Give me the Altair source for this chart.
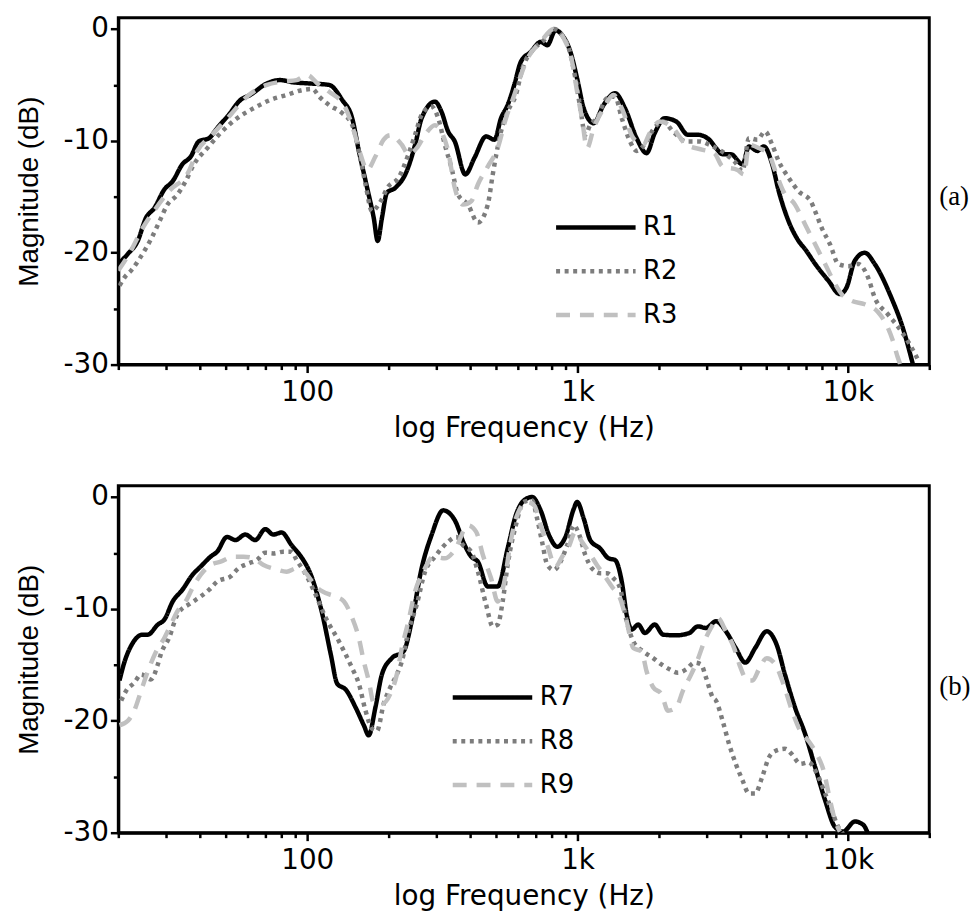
import altair as alt
import pandas as pd

# ---------------- panel (a): (frequency Hz, magnitude dB) ----------------
R1 = [(20, -21.0), (21.7, -20.1), (23.6, -18.95), (25.3, -16.9), (27.2, -16.0), (29.6, -14.35),
      (31.8, -13.6), (34.5, -12.1), (37.1, -11.4), (39.7, -10.05), (43.3, -9.76), (46.4, -8.87),
      (51.2, -7.68), (56.6, -6.35), (61.5, -5.9), (70.9, -4.87), (79.3, -4.57), (88.7, -4.77),
      (101.7, -4.87), (120.4, -5.0), (134.7, -6.35), (146.6, -7.98), (155.2, -10.9), (166.5, -14.2),
      (176.2, -16.9), (182.2, -18.95), (188.9, -16.9), (197.1, -14.65), (211.6, -14.2), (233.4, -12.7),
      (250.6, -10.35), (264.9, -7.98), (296.7, -6.5), (313.7, -7.4), (331.9, -9.16), (351.3, -10.05),
      (384.3, -13.0), (415.9, -11.5), (458.9, -9.6), (492.6, -9.9), (520.9, -7.98), (551.2, -6.8),
      (583.3, -5.0), (616.7, -2.94), (671.2, -2.05), (730.3, -1.16), (772.9, -1.45), (828.7, -0.12),
      (877.1, -0.56), (941, -2.05), (996, -4.42), (1054, -7.09), (1147, -8.42), (1248, -6.79),
      (1376, -5.75), (1498, -7.09), (1653, -9.76), (1799, -11.1), (1930, -9.3), (2100, -7.98),
      (2318, -8.27), (2559, -9.46), (2785, -9.46), (3071, -9.9), (3251, -10.65), (3440, -11.2),
      (3690, -11.2), (4073, -12.1), (4306, -10.5), (4623, -10.9), (4888, -10.5), (5248, -12.1),
      (5549, -14.5), (6038, -17.2), (6571, -18.95), (6953, -19.7), (7567, -21.0), (8467, -22.5),
      (9346, -23.7), (9890, -23.1), (10610, -20.7), (11545, -20.0), (12564, -21.0), (14468, -24.0),
      (15955, -26.7), (17366, -29.9)]

R2 = [(20.2, -22.95), (21.1, -22.2), (22.3, -21.6), (24.3, -20.3), (26.4, -18.8), (28.4, -17.2),
      (30.4, -15.7), (33.1, -14.8), (35.5, -13.6), (38.1, -12.1), (42.7, -10.65), (47.8, -9.3),
      (55.0, -7.98), (63.3, -7.09), (72.9, -6.35), (83.9, -5.9), (96.5, -5.45), (104.6, -5.37),
      (110.7, -6.05), (120.4, -6.8), (134.7, -7.53), (146.6, -8.57), (155.2, -10.9), (164.3, -13.9),
      (173.6, -16.3), (183.7, -15.7), (200, -14.05), (217.6, -13.3), (236.7, -11.2), (250.6, -9.46),
      (264.9, -7.68), (288.3, -6.94), (305.1, -7.98), (322.8, -10.35), (341.5, -12.4), (361.3, -14.8),
      (393.1, -15.7), (427.8, -17.3), (465.4, -15.7), (485.6, -13.0), (497.8, -11.5), (520.9, -9.16),
      (551.2, -7.38), (591.1, -5.9), (625.6, -3.53), (690.8, -1.75), (751.4, -1.0), (818, 0.0),
      (877, -0.56), (928.5, -1.75), (981.5, -4.42), (1024, -7.09), (1068, -9.46), (1114, -8.57),
      (1179, -7.98), (1283, -6.2), (1376, -6.05), (1457, -7.98), (1563, -10.05), (1653, -10.9),
      (1799, -10.05), (1904, -9.0), (2072, -8.27), (2254, -9.16), (2522, -10.05), (2822, -10.05),
      (3071, -10.35), (3537, -11.2), (3848, -11.98), (4073, -12.7), (4306, -9.76), (4623, -9.9),
      (4939, -9.16), (5248, -10.35), (5549, -11.83), (6038, -13.3), (6571, -14.5), (7287, -15.4),
      (7567, -16.3), (8009, -17.8), (8590, -19.25), (9214, -21.0), (10025, -21.2), (10910, -21.0),
      (11870, -22.2), (12564, -24.0), (14058, -25.5), (15745, -27.0), (17136, -28.4), (18373, -29.8)]

R3 = [(20, -21.6), (22.3, -19.8), (24.6, -17.8), (27.6, -16.0), (30.8, -14.5), (36.5, -12.7),
      (39.2, -10.9), (43.9, -9.6), (52.0, -7.68), (59.8, -6.05), (70.9, -5.0), (81.5, -4.7),
      (91.3, -4.57), (100, -4.12), (109, -4.87), (120.4, -5.6), (138.7, -7.09), (148.8, -9.16),
      (157.4, -11.2), (166.5, -12.6), (178.7, -11.4), (191.7, -9.9), (202.9, -9.5), (223.8, -10.35),
      (236.7, -11.2), (254, -10.65), (272.7, -9.46), (296.7, -8.6), (313.7, -9.2), (331.9, -10.9),
      (351.3, -14.2), (376.8, -15.7), (404.2, -15.4), (427.8, -13.9), (465.4, -12.3), (506.5, -10.65),
      (543.3, -7.98), (583.3, -5.9), (599.8, -5.0), (652.9, -2.64), (730, -1.16), (818, 0.0),
      (889.8, -0.86), (954.6, -2.94), (996, -5.6), (1038, -7.98), (1084, -10.65), (1147, -8.87),
      (1248, -7.09), (1358, -5.9), (1457, -7.09), (1608, -9.76), (1750, -10.35), (1850, -9.3),
      (2013, -8.27), (2254, -8.87), (2522, -10.35), (2905, -10.8), (3204, -11.1), (3440, -12.3),
      (3904, -12.6), (4128, -13.0), (4306, -10.35), (4687, -10.65), (5099, -11.2), (5390, -12.7),
      (5771, -14.5), (6372, -15.7), (6953, -17.5), (7567, -19.25), (8236, -21.0), (8834, -22.5),
      (9483, -23.7), (10318, -24.3), (11545, -24.6), (12917, -25.3), (14058, -26.7), (14637, -27.8),
      (15268, -29.3), (15745, -30.2)]

# ---------------- panel (b) ----------------
R7 = [(20.2, -16.4), (21.1, -14.7), (22.3, -13.3), (24.6, -12.3), (25.7, -12.3), (28.0, -11.4),
      (29.6, -10.96), (31.8, -9.33), (34.5, -8.3), (37.6, -6.96), (40.3, -6.22), (43.9, -5.33),
      (46.4, -4.89), (50.5, -3.56), (54.2, -3.85), (59.0, -3.35), (64.2, -3.85), (69.9, -2.87),
      (74.9, -3.35), (80.4, -3.17), (87.5, -4.3), (96.5, -5.6), (101.7, -6.6), (113.8, -10.5),
      (122.2, -14.07), (129.2, -16.7), (138.7, -17.2), (150.9, -18.8), (161.9, -20.4), (168.8, -21.3),
      (178.7, -18.8), (188.9, -15.85), (205.6, -14.4), (227, -13.8), (243.5, -11.1), (264.9, -6.37),
      (288.3, -3.4), (318.3, -1.19), (351.3, -2.07), (382.3, -4.3), (404.2, -5.33), (427.8, -5.78),
      (465.4, -8.0), (506.5, -8.0), (551.2, -4.6), (591, -1.63), (633.2, -0.3), (679, 0.0),
      (730, -1.19), (784, -3.4), (841, -4.44), (902, -3.56), (968.5, -1.04), (996, -0.44),
      (1054, -1.93), (1114, -3.85), (1212, -4.6), (1302, -5.48), (1376, -5.63), (1457, -7.56),
      (1519, -10.5), (1585, -11.85), (1677, -11.4), (1774, -12.15), (1930, -11.4), (2072, -12.3),
      (2318, -12.36), (2592, -12.15), (2785, -11.56), (2988, -11.7), (3251, -11.1), (3537, -12.0),
      (3848, -13.5), (4171, -14.8), (4539, -13.5), (5009, -12.0), (5451, -13.2), (5848, -15.85),
      (6372, -18.8), (6953, -21.2), (7567, -24.15), (8236, -27.1), (8963, -29.5), (9610, -29.9),
      (10610, -29.0), (11400, -29.3), (11870, -30.1)]

R8 = [(20.5, -18.2), (21.4, -17.3), (22.9, -16.6), (24.3, -15.85), (26.4, -16.3), (28.0, -14.96),
      (28.7, -14.07), (30.8, -12.6), (33.1, -10.5), (37.1, -9.48), (40.3, -8.9), (43.3, -8.3),
      (46.4, -7.56), (52.0, -7.1), (55.7, -6.37), (60.7, -5.93), (65.1, -5.63), (69.9, -4.98),
      (74.9, -5.04), (81.5, -4.89), (87.5, -4.89), (91.3, -5.63), (99, -6.96), (106.1, -8.44),
      (117.1, -10.8), (131, -12.9), (146.6, -15.3), (155.2, -16.7), (164.3, -19.1), (173.6, -20.7),
      (181.1, -20.9), (191.7, -18.5), (202.9, -17.0), (214.5, -15.85), (223.8, -14.7), (236.7, -12.0),
      (254, -9.63), (272.7, -6.67), (296.7, -5.33), (331.9, -4.0), (356.1, -3.56), (376.8, -4.3),
      (404.2, -4.89), (427.8, -6.67), (458.9, -9.63), (485.6, -11.56), (506.5, -11.4), (528.4, -9.33),
      (551.2, -6.07), (591.1, -2.52), (632, -0.44), (679, -0.3), (708.6, -1.93), (739, -4.0),
      (773, -6.07), (818, -6.52), (864.9, -5.78), (915, -4.3), (968.5, -2.52), (1010, -3.26),
      (1068, -5.18), (1130, -6.37), (1212, -6.81), (1283, -6.81), (1358, -7.26), (1436, -8.15),
      (1519, -11.1), (1608, -12.9), (1750, -13.8), (1904, -14.4), (2042, -14.96), (2190, -15.4),
      (2351, -15.7), (2522, -15.4), (2706, -14.8), (2863, -14.96), (2988, -16.15), (3161, -17.9),
      (3251, -18.2), (3440, -20.0), (3637, -22.1), (3848, -23.85), (4073, -25.3), (4306, -26.5),
      (4539, -26.5), (4822, -25.0), (5099, -23.3), (5390, -22.7), (5848, -22.5), (6214, -23.0),
      (6667, -23.85), (7153, -23.7), (7676, -24.7), (8236, -26.5), (8714, -28.0), (9214, -29.5),
      (9610, -30.1)]

R9 = [(20.2, -20.4), (21.7, -20.0), (22.9, -19.1), (24.3, -17.3), (25.7, -15.6), (27.6, -13.8),
      (29.6, -12.6), (31.3, -11.4), (33.1, -10.2), (35.5, -9.33), (37.6, -8.15), (40.3, -6.96),
      (43.9, -6.07), (47.8, -5.78), (53.4, -5.33), (58.1, -5.33), (63.3, -5.48), (68.9, -6.07),
      (76.0, -6.43), (83.9, -6.67), (91.3, -6.37), (99, -6.81), (106.1, -7.85), (113.8, -8.44),
      (127.4, -8.9), (136.7, -9.33), (146.6, -10.8), (155.2, -12.6), (161.9, -14.7), (168.8, -16.4),
      (176.2, -18.4), (188.9, -18.5), (202.9, -17.6), (214.5, -15.85), (223.8, -13.5), (236.7, -11.1),
      (250.6, -8.44), (268.8, -6.67), (292.4, -5.33), (322.8, -5.48), (351.3, -4.74), (393.1, -2.52),
      (421.7, -3.11), (446.4, -5.18), (478.6, -7.26), (506.5, -9.33), (535.9, -7.56), (565.5, -4.0),
      (600, -1.5), (653, -0.44), (691, -0.74), (730, -2.52), (773, -4.3), (829, -6.22), (877, -5.33),
      (928, -4.44), (981, -3.11), (1038, -4.0), (1099, -4.89), (1179, -6.07), (1265, -7.11),
      (1339, -8.0), (1436, -9.04), (1519, -11.1), (1608, -13.5), (1725, -13.8), (1799, -15.55),
      (1904, -17.0), (2042, -17.6), (2161, -19.1), (2318, -18.8), (2454, -17.3), (2632, -15.85),
      (2785, -14.5), (2944, -12.9), (3116, -11.7), (3299, -10.8), (3537, -12.0), (3795, -13.5),
      (4015, -15.3), (4250, -16.4), (4438, -16.4), (4687, -15.4), (5009, -14.4), (5390, -14.96),
      (5771, -16.7), (6214, -19.1), (6667, -20.9), (7153, -21.8), (7676, -23.0), (8120, -24.4),
      (8590, -27.1), (8963, -28.9), (9346, -29.9)]

X_TICKS = [20, 30, 40, 50, 60, 70, 80, 90, 100, 200, 300, 400, 500, 600, 700, 800, 900,
           1000, 2000, 3000, 4000, 5000, 6000, 7000, 8000, 9000, 10000, 20000]
Y_TICKS = [-30, -25, -20, -15, -10, -5, 0]

COLORS = ["#000000", "#7d7d7d", "#c0c0c0"]
DASHES = [[1, 0], [4, 4.6], [14, 10]]

W, H = 816, 349


def table(series):
    rows = []
    for name, pts in series:
        for f, db in pts:
            rows.append({"freq": f, "db": db, "series": name})
    return pd.DataFrame(rows)


def panel(series, legend_x, legend_y, tag, tag_y):
    names = [n for n, _ in series]
    df = table(series)
    leg = alt.Legend(title=None, orient="none", legendX=legend_x, legendY=legend_y,
                     symbolType="stroke", symbolSize=6400, symbolStrokeWidth=4.5,
                     clipHeight=20, rowPadding=18, padding=0,
                     labelFont="DejaVu Sans", labelFontSize=26, labelOffset=5,
                     labelColor="black")
    x_axis = alt.Axis(
        values=X_TICKS,
        labelExpr="datum.value == 100 ? '100' : datum.value == 1000 ? '1k' : datum.value == 10000 ? '10k' : ''",
        tickSize={"condition": {"test": "datum.value == 100 || datum.value == 1000 || datum.value == 10000",
                                "value": 8}, "value": 5},
        labelOverlap=False, labelFlush=False, labelPadding=6,
        title="log Frequency (Hz)", titleFont="DejaVu Sans", titleFontSize=28,
        titlePadding=8, titleFontWeight="normal")
    y_axis = alt.Axis(
        values=Y_TICKS,
        labelExpr="datum.value % 10 == 0 ? '' + datum.value : ''",
        tickSize={"condition": {"test": "datum.value % 10 == 0", "value": 8}, "value": 5},
        labelOverlap=False, labelPadding=2,
        title="Magnitude (dB)", titleFont="Liberation Sans", titleFontSize=28,
        titlePadding=20, titleFontWeight="normal")
    lines = alt.Chart(df).mark_line(strokeWidth=4.5, strokeCap="butt", interpolate="monotone",
                                    clip=True).encode(
        x=alt.X("freq:Q", scale=alt.Scale(type="log", domain=[20, 20000], nice=False), axis=x_axis),
        y=alt.Y("db:Q", scale=alt.Scale(domain=[-30, 1], nice=False, zero=False), axis=y_axis),
        color=alt.Color("series:N", scale=alt.Scale(domain=names, range=COLORS), legend=leg),
        strokeDash=alt.StrokeDash("series:N", scale=alt.Scale(domain=names, range=DASHES), legend=leg),
    )
    label = alt.Chart(pd.DataFrame({"tag": [tag]})).mark_text(
        font="Liberation Serif", fontSize=27, align="left", baseline="middle", color="black"
    ).encode(text="tag:N", x=alt.value(W + 10), y=alt.value(tag_y))
    return alt.layer(lines, label).properties(width=W, height=H)


top = panel([("R1", R1), ("R2", R2), ("R3", R3)], 438, 201, "(a)", 180)
bottom = panel([("R7", R7), ("R8", R8), ("R9", R9)], 334, 203, "(b)", 202)

chart = alt.vconcat(top, bottom, spacing=37).resolve_scale(
    color="independent", strokeDash="independent"
).properties(
    padding={"left": 5, "top": 2, "right": 0, "bottom": 0}
).configure_axis(
    domainColor="black", domainWidth=3, tickColor="black", tickWidth=2.5,
    labelColor="black", titleColor="black", grid=False,
    labelFont="DejaVu Sans", labelFontSize=28,
).configure_view(stroke="black", strokeWidth=3)

chart.save("out.html", embed_options={"renderer": "svg", "actions": False})
